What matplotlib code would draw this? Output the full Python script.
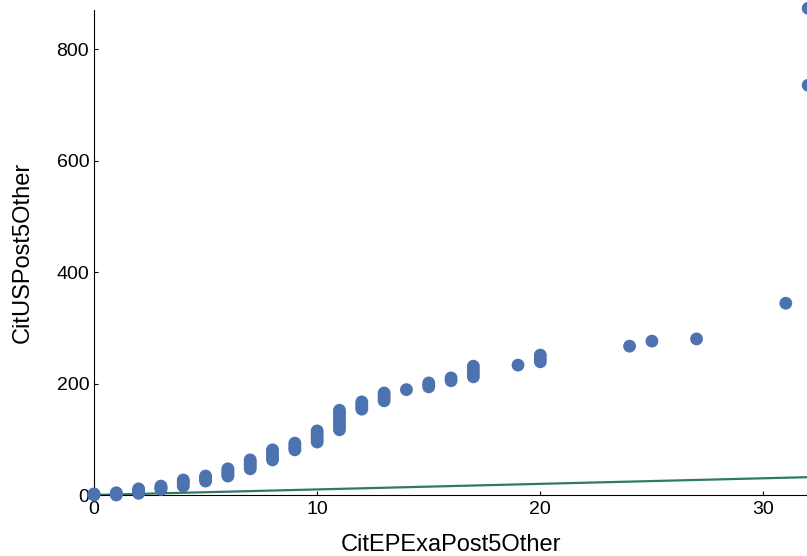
import matplotlib
matplotlib.use("Agg")
import matplotlib.pyplot as plt

plt.rcParams['font.family'] = ['Liberation Sans', 'DejaVu Sans']

# Data (x integer counts, y values)
cit_ep = [0, 0, 0,
          1, 1, 1,
          2, 2, 2, 2,
          3, 3, 3, 3,
          4, 4, 4, 4,
          5, 5, 5, 5,
          6, 6, 6, 6, 6,
          7, 7, 7, 7, 7,
          8, 8, 8, 8, 8,
          9, 9, 9, 9,
          10, 10, 10, 10, 10,
          11, 11, 11, 11, 11, 11, 11,
          12, 12, 12, 12,
          13, 13, 13, 13,
          14,
          15, 15, 15,
          16, 16,
          17, 17, 17, 17,
          19,
          20, 20, 20,
          24, 25, 27, 31, 32, 32]
cit_us = [0, 1, 2,
          0, 2, 4,
          3, 6, 9, 11,
          10, 12, 14, 16,
          16, 20, 24, 27,
          25, 28, 31, 34,
          34, 37, 40, 44, 47,
          47, 51, 55, 59, 63,
          63, 67, 72, 77, 81,
          81, 85, 89, 93,
          95, 100, 105, 110, 115,
          117, 123, 129, 135, 141, 147, 152,
          154, 158, 163, 167,
          169, 174, 179, 183,
          189,
          194, 197, 201,
          205, 210,
          212, 218, 225, 231,
          233,
          239, 245, 251,
          267, 276, 280, 344, 735, 873]

line_x = [0, 32.0]
line_y = [0, 32.0]

fig = plt.figure(figsize=(8.07, 5.56), dpi=100)
ax = fig.add_axes([94/807, 61/556, 1 - 94/807, (495 - 10)/556])

ax.scatter(cit_ep, cit_us, s=85, color='#4c72b0', edgecolors='none',
           clip_on=False, zorder=3)
ax.plot(line_x, line_y, color='#2e7a68', linewidth=1.6, zorder=2)

ax.set_xlim(0, 31.95)
ax.set_ylim(0, 870)
ax.set_xticks([0, 10, 20, 30])
ax.set_yticks([0, 200, 400, 600, 800])
ax.tick_params(direction='in', length=3, width=0.8, labelsize=14, colors='black')
ax.tick_params(axis='x', pad=4)
ax.spines['top'].set_visible(False)
ax.spines['right'].set_visible(False)
ax.spines['left'].set_color('black')
ax.spines['bottom'].set_color('black')
ax.set_xlabel('CitEPExaPost5Other', fontsize=17, labelpad=12)
ax.set_ylabel('CitUSPost5Other', fontsize=17, labelpad=16)

fig.savefig('out.png', dpi=100)
